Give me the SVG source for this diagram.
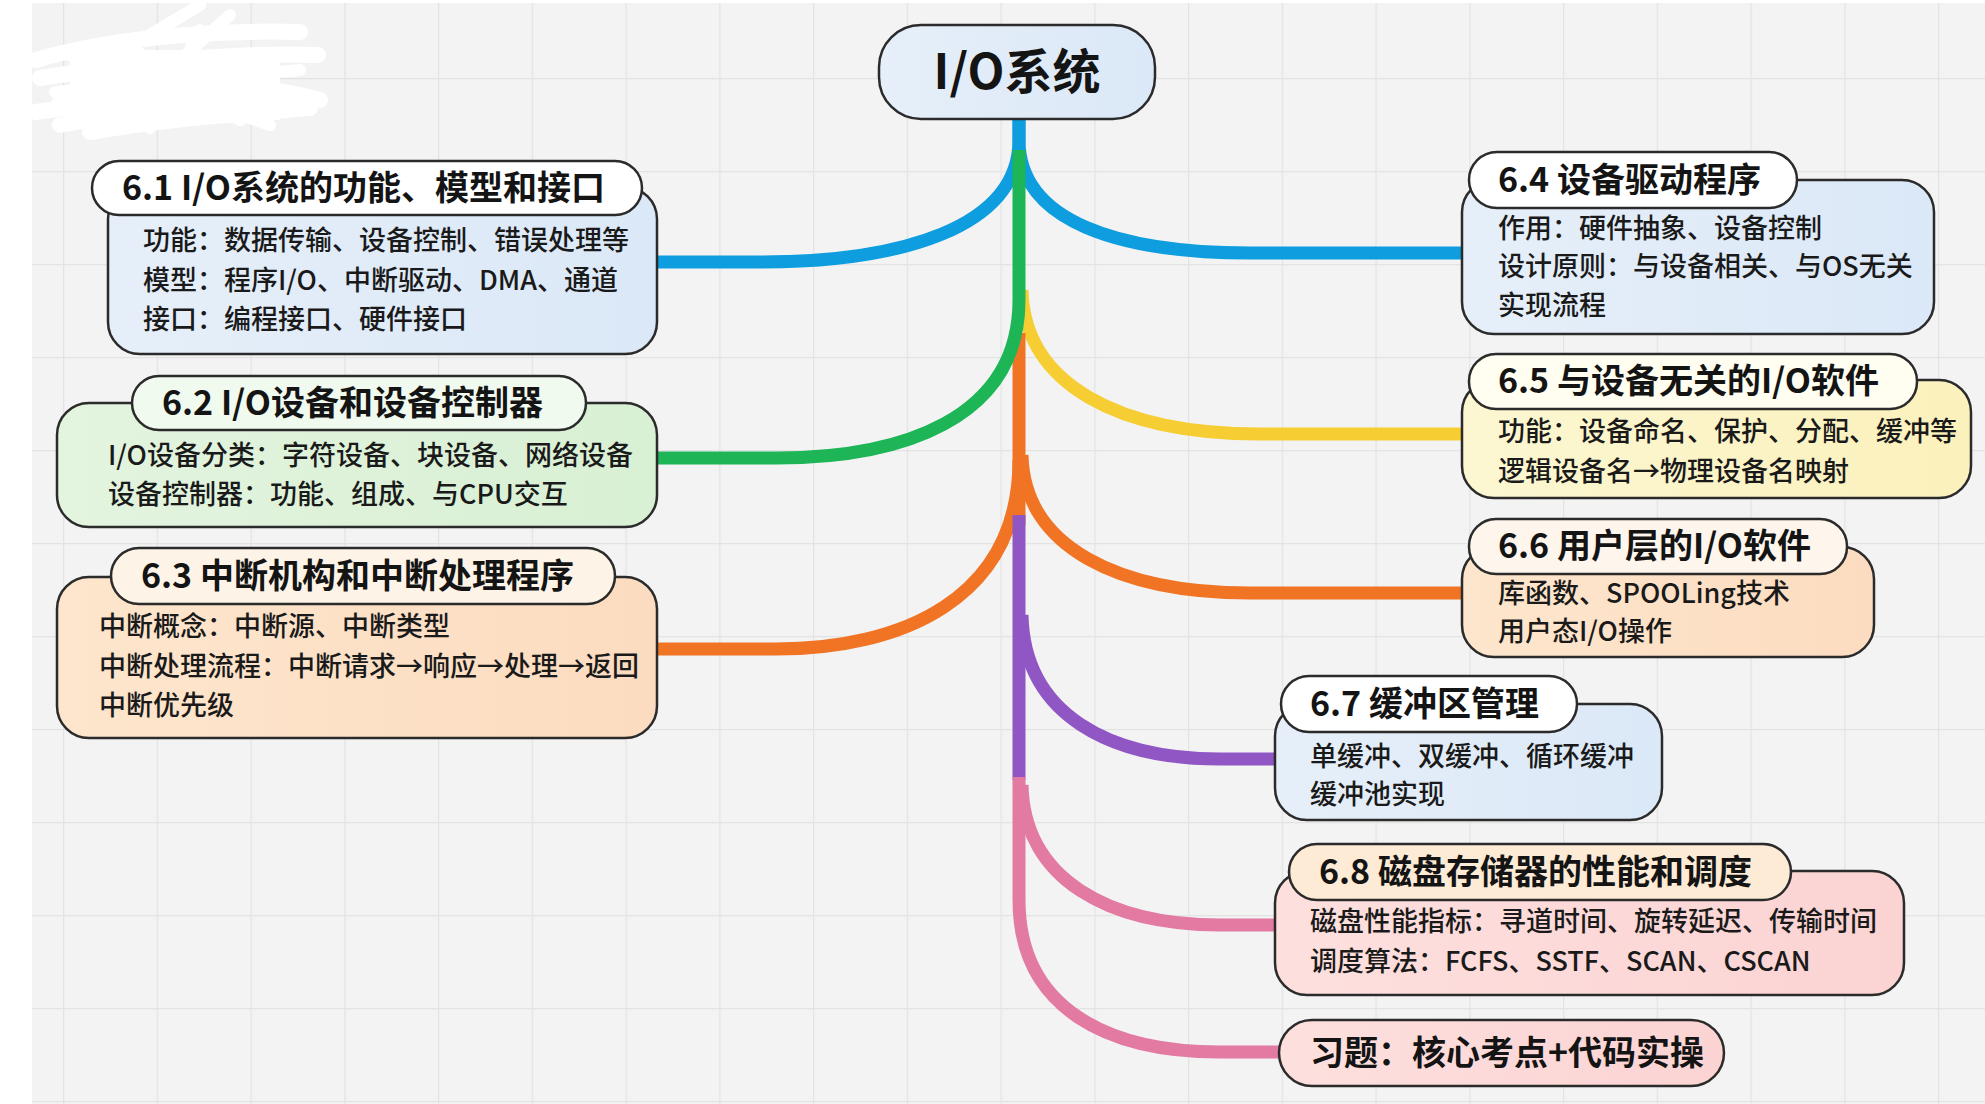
<svg xmlns="http://www.w3.org/2000/svg" width="1985" height="1104" viewBox="0 0 1985 1104">
<style>
.hdr{font-family:"Noto Sans CJK SC","Noto Sans",sans-serif;font-weight:700;font-size:34px;fill:#141414}
.txt{font-family:"Noto Sans CJK SC","Noto Sans",sans-serif;font-weight:500;font-size:27px;fill:#1a1a1a}
.root{font-family:"Noto Sans CJK SC","Noto Sans",sans-serif;font-weight:700;font-size:48px;fill:#141414}
.box{stroke:#2b2b2b;stroke-width:2.5}
.con path{fill:none;stroke-width:13;stroke-linecap:butt}
</style>
<defs>
<pattern id="grid" x="63" y="78" width="93.75" height="93" patternUnits="userSpaceOnUse">
<path d="M0 0V93M0 0H93.75" fill="none" stroke="#e3e3e4" stroke-width="2.5"/>
</pattern>
<linearGradient id="gBlue" x1="0" y1="0" x2="1" y2="0"><stop offset="0" stop-color="#e6eff9"/><stop offset="1" stop-color="#dbe8f7"/></linearGradient>
<linearGradient id="gGreen" x1="0" y1="0" x2="1" y2="0"><stop offset="0" stop-color="#e3f4df"/><stop offset="1" stop-color="#d8f0d4"/></linearGradient>
<linearGradient id="gPeach" x1="0" y1="0" x2="1" y2="0"><stop offset="0" stop-color="#fde6cd"/><stop offset="1" stop-color="#fcdcc0"/></linearGradient>
<linearGradient id="gYellow" x1="0" y1="0" x2="1" y2="0"><stop offset="0" stop-color="#fcf7d2"/><stop offset="1" stop-color="#fbf1bc"/></linearGradient>
<linearGradient id="gPink" x1="0" y1="0" x2="1" y2="0"><stop offset="0" stop-color="#fde0de"/><stop offset="1" stop-color="#fbd3d3"/></linearGradient>
</defs>
<rect width="1985" height="1104" fill="#ffffff"/>
<rect x="32" y="3" width="1953" height="1101" fill="#f3f3f4"/>
<rect x="32" y="3" width="1953" height="1101" fill="url(#grid)"/>
<g id="redaction" fill="none" stroke="#ffffff" stroke-linecap="round" stroke-linejoin="round">
<path d="M36 60 C120 35 230 30 300 32 M40 78 C140 62 240 52 318 55 M60 102 C150 84 250 80 320 100 M36 112 C130 98 220 92 290 100 M90 132 C170 118 240 114 310 108 M60 125 C150 108 250 104 320 100" stroke-width="16"/>
<path d="M70 55 L270 125 M120 40 L240 120 M150 35 L200 5 M200 30 L150 128 M55 92 L300 70 M230 15 L180 60" stroke-width="12"/>
<rect x="70" y="50" width="210" height="70" fill="#ffffff" stroke="none"/>
</g>
<g id="connectors" class="con">
<path d="M1019 117 L1019 140 C1019 228 900 262 760 262 L657 262" stroke="#0e9ddf"/>
<path d="M1019 117 L1019 140 C1019 222 1120 253 1250 253 L1462 253" stroke="#0e9ddf"/>
<path d="M1022 290 C1024 385 1120 434 1260 434 L1462 434" stroke="#f6cd33"/>
<path d="M1019 333 L1019 525" stroke="#f07424"/>
<path d="M1019 460 C1019 600 900 649 776 649 L657 649" stroke="#f07424"/>
<path d="M1022 455 C1024 548 1120 593 1250 593 L1462 593" stroke="#f07424"/>
<path d="M1019 150 L1019 300 C1019 420 900 458 776 458 L657 458" stroke="#1db556"/>
<path d="M1019 515 L1019 780" stroke="#9057c4"/>
<path d="M1022 615 C1024 715 1110 759 1220 759 L1276 759" stroke="#9057c4"/>
<path d="M1019 777 L1019 900 C1019 1010 1110 1052 1220 1052 L1281 1052" stroke="#e27aa2"/>
<path d="M1022 785 C1024 880 1110 925 1220 925 L1276 925" stroke="#e27aa2"/>
</g>
<g id="root">
<rect class="box" x="879" y="25" width="276" height="94" rx="42" fill="url(#gBlue)" stroke-width="3"/>
<text class="root" x="1017" y="89" text-anchor="middle">I/O系统</text>
</g>
<g id="n61">
<rect class="box" x="108" y="187" width="549" height="167" rx="32" fill="url(#gBlue)"/>
<rect class="box" x="92" y="161" width="550" height="54" rx="27" fill="#ffffff"/>
<text class="hdr" x="122" y="200">6.1 I/O系统的功能、模型和接口</text>
<text class="txt" x="143" y="250">功能：数据传输、设备控制、错误处理等</text>
<text class="txt" x="143" y="290">模型：程序I/O、中断驱动、DMA、通道</text>
<text class="txt" x="143" y="329">接口：编程接口、硬件接口</text>
</g>
<g id="n62">
<rect class="box" x="57" y="403" width="600" height="124" rx="32" fill="url(#gGreen)"/>
<rect class="box" x="132" y="376" width="454" height="54" rx="27" fill="#f1faef"/>
<text class="hdr" x="162" y="415">6.2 I/O设备和设备控制器</text>
<text class="txt" x="108" y="465">I/O设备分类：字符设备、块设备、网络设备</text>
<text class="txt" x="108" y="504">设备控制器：功能、组成、与CPU交互</text>
</g>
<g id="n63">
<rect class="box" x="57" y="577" width="600" height="161" rx="32" fill="url(#gPeach)"/>
<rect class="box" x="111" y="548" width="504" height="56" rx="28" fill="#fdf3e6"/>
<text class="hdr" x="141" y="588">6.3 中断机构和中断处理程序</text>
<text class="txt" x="99" y="636">中断概念：中断源、中断类型</text>
<text class="txt" x="99" y="676">中断处理流程：中断请求→响应→处理→返回</text>
<text class="txt" x="99" y="715">中断优先级</text>
</g>
<g id="n64">
<rect class="box" x="1462" y="180" width="472" height="154" rx="32" fill="url(#gBlue)"/>
<rect class="box" x="1469" y="152" width="328" height="56" rx="28" fill="#ffffff"/>
<text class="hdr" x="1498" y="192">6.4 设备驱动程序</text>
<text class="txt" x="1498" y="238">作用：硬件抽象、设备控制</text>
<text class="txt" x="1498" y="276">设计原则：与设备相关、与OS无关</text>
<text class="txt" x="1498" y="315">实现流程</text>
</g>
<g id="n65">
<rect class="box" x="1462" y="380" width="509" height="118" rx="32" fill="url(#gYellow)"/>
<rect class="box" x="1469" y="354" width="448" height="55" rx="27" fill="#fffef0"/>
<text class="hdr" x="1498" y="393">6.5 与设备无关的I/O软件</text>
<text class="txt" x="1498" y="441">功能：设备命名、保护、分配、缓冲等</text>
<text class="txt" x="1498" y="481">逻辑设备名→物理设备名映射</text>
</g>
<g id="n66">
<rect class="box" x="1462" y="547" width="412" height="110" rx="32" fill="url(#gPeach)"/>
<rect class="box" x="1469" y="519" width="378" height="55" rx="27" fill="#fef5ec"/>
<text class="hdr" x="1498" y="558">6.6 用户层的I/O软件</text>
<text class="txt" x="1498" y="603">库函数、SPOOLing技术</text>
<text class="txt" x="1498" y="641">用户态I/O操作</text>
</g>
<g id="n67">
<rect class="box" x="1275" y="704" width="387" height="116" rx="32" fill="url(#gBlue)"/>
<rect class="box" x="1281" y="676" width="296" height="56" rx="28" fill="#ffffff"/>
<text class="hdr" x="1310" y="716">6.7 缓冲区管理</text>
<text class="txt" x="1310" y="766">单缓冲、双缓冲、循环缓冲</text>
<text class="txt" x="1310" y="804">缓冲池实现</text>
</g>
<g id="n68">
<rect class="box" x="1275" y="871" width="629" height="124" rx="32" fill="url(#gPink)"/>
<rect class="box" x="1289" y="844" width="502" height="56" rx="28" fill="#fdebd6"/>
<text class="hdr" x="1319" y="884">6.8 磁盘存储器的性能和调度</text>
<text class="txt" x="1310" y="931">磁盘性能指标：寻道时间、旋转延迟、传输时间</text>
<text class="txt" x="1310" y="971">调度算法：FCFS、SSTF、SCAN、CSCAN</text>
</g>
<g id="nex">
<rect class="box" x="1279" y="1020" width="445" height="66" rx="33" fill="url(#gPink)"/>
<text class="hdr" x="1310" y="1065">习题：核心考点+代码实操</text>
</g>
</svg>
